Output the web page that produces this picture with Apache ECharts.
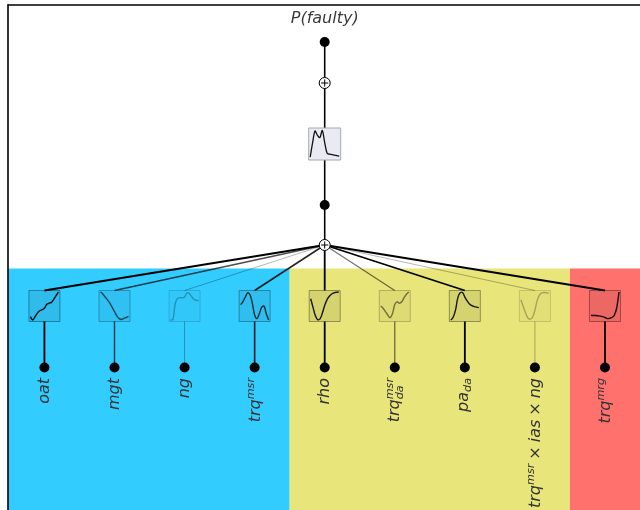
<!DOCTYPE html>
<html>
<head>
<meta charset="utf-8">
<script src="https://cdn.jsdelivr.net/npm/echarts@6/dist/echarts.min.js"></script>
<style>
  html, body { margin: 0; padding: 0; background: #fff; }
  #chart { width: 640px; height: 510px; }
</style>
</head>
<body>
<div id="chart"></div>
<script>
// Input features of the additive model, left to right.
// ^{..} marks a superscript, _{..} a subscript.
const featureLabels = ['oat', 'mgt', 'ng', 'trq^{msr}', 'rho', 'trq^{msr}_{da}', 'pa_{da}', 'trq^{msr} × ias × ng', 'trq^{mrg}'];
const featureGroups = [0, 0, 0, 0, 1, 1, 1, 1, 2];
const featureWeights = [1.0, 0.7, 0.3, 0.85, 1.0, 0.55, 1.0, 0.3, 1.0];
const groupColors = ['#33ccff', '#e8e57a', '#ff716d'];

// Learned shape functions, sampled at even steps across each box (0 = box bottom, 1 = box top).
const shapeOat   = [0.12, 0.0, 0.12, 0.25, 0.33, 0.37, 0.42, 0.56, 0.6, 0.63, 0.74, 0.87, 1.0];
const shapeMgt   = [1.0, 0.93, 0.82, 0.72, 0.6, 0.45, 0.3, 0.15, 0.05, 0.02, 0.06, 0.09, 0.13];
const shapeNg    = [0.0, 0.02, 0.58, 0.77, 0.8, 0.79, 0.82, 0.97, 0.95, 0.84, 0.74, 0.7, 0.7];
const shapeTrq   = [0.55, 0.66, 0.82, 0.97, 0.9, 0.6, 0.18, 0.05, 0.22, 0.45, 0.5, 0.22, 0.0];
const shapeRho   = [0.76, 0.45, 0.15, 0.01, 0.04, 0.25, 0.52, 0.73, 0.85, 0.93, 0.97, 0.99, 1.0];
const shapeTrqDa = [0.5, 0.42, 0.3, 0.18, 0.08, 0.22, 0.55, 0.65, 0.6, 0.65, 0.8, 0.92, 1.0];
const shapePaDa  = [0.0, 0.1, 0.35, 0.8, 0.97, 0.98, 0.82, 0.68, 0.57, 0.51, 0.48, 0.46, 0.44];
const shapeTriple = [0.72, 0.48, 0.25, 0.07, 0.03, 0.1, 0.35, 0.7, 0.9, 0.97, 0.98, 0.97, 0.96];
const shapeMrg   = [0.17, 0.16, 0.16, 0.15, 0.14, 0.12, 0.09, 0.05, 0.06, 0.09, 0.17, 0.42, 1.0];
const featureShapes = [shapeOat, shapeMgt, shapeNg, shapeTrq, shapeRho, shapeTrqDa, shapePaDa, shapeTriple, shapeMrg];

// Output link function
const outputLabel = 'P(faulty)';
const outputShape = [0.05, 0.55, 0.95, 0.8, 0.72, 0.97, 0.55, 0.18, 0.15, 0.13, 0.12, 0.1, 0.08];

// Layout: vertical level of each row (the y axis runs downward)
const LEVEL = {
  title: 19, out: 42, outSum: 83, outShape: 144, link: 205, hub: 245,
  bands: 268.5, shapes: 306, inputs: 367.5, labels: 378
};
const HUB_X = 4;
const BOX = 31;
const OUT_BOX = 32;
const FONT_FAMILY = '"DejaVu Sans", "Noto Sans", sans-serif';
const MAIN_SIZE = 16;
const LABEL_SIZE = 16;
const TEXT_COLOR = '#333';

const X_MIN = -0.52, X_MAX = 8.5, Y_MIN = 5, Y_MAX = 510;

// ---- text helpers -------------------------------------------------------
const measureCtx = document.createElement('canvas').getContext('2d');
function textWidth(t, size) {
  measureCtx.font = 'italic ' + size + 'px ' + FONT_FAMILY;
  return measureCtx.measureText(t).width;
}
function parseLabel(s) {
  const pieces = [];
  let i = 0, buf = '';
  while (i < s.length) {
    if ((s[i] === '^' || s[i] === '_') && s[i + 1] === '{') {
      if (buf) { pieces.push({ text: buf, kind: 'base' }); buf = ''; }
      const end = s.indexOf('}', i);
      pieces.push({ text: s.slice(i + 2, end), kind: s[i] === '^' ? 'sup' : 'sub' });
      i = end + 1;
    } else { buf += s[i]; i++; }
  }
  if (buf) pieces.push({ text: buf, kind: 'base' });
  return pieces;
}
// Lay pieces out along a baseline; returns positioned fragments and total length.
function layoutLabel(s, mainSize) {
  const scriptSize = mainSize * 0.7;
  // operator spacing a little tighter than a full word space
  const pieces = parseLabel(s.replace(/ /g, '\u2005'));
  const frags = [];
  let cursor = 0, prevScript = null;
  let top = -mainSize / 2, bottom = mainSize / 2;
  pieces.forEach(p => {
    const size = p.kind === 'base' ? mainSize : scriptSize;
    const w = textWidth(p.text, size);
    let dy = 0;
    if (p.kind === 'sup') { dy = -0.3 * mainSize; top = Math.min(top, dy - scriptSize / 2); }
    if (p.kind === 'sub') { dy = 0.31 * mainSize; bottom = Math.max(bottom, dy + scriptSize / 2); }
    if (p.kind !== 'base' && prevScript && prevScript.kind !== p.kind) {
      // stacked super/subscript share the same start
      frags.push({ text: p.text, size, x: prevScript.x, dy });
      cursor = prevScript.x + Math.max(prevScript.w, w);
      prevScript = null;
    } else {
      frags.push({ text: p.text, size, x: cursor, dy });
      prevScript = p.kind !== 'base' ? { kind: p.kind, x: cursor, w } : null;
      cursor += w;
    }
  });
  return { frags, length: cursor, shift: -(top + bottom) / 2 };
}
function textEl(t, x, y, size, align, valign, fill) {
  return {
    type: 'text', x, y,
    style: {
      text: t, fill, font: 'italic ' + size + 'px ' + FONT_FAMILY,
      align, verticalAlign: valign, textAlign: align, textVerticalAlign: valign
    }
  };
}
function curvePoints(samples, cx, cy, size) {
  const pad = 1.5, inner = size - 2 * pad;
  const left = cx - size / 2 + pad, bottom = cy + size / 2 - pad;
  return samples.map((v, k) => [left + inner * k / (samples.length - 1), bottom - v * inner]);
}
function ink(alpha) { return 'rgba(0,0,0,' + alpha + ')'; }

// ---- data for the series --------------------------------------------------
const featureIdx = featureLabels.map((_, i) => [i, LEVEL.shapes, i]);

const bandData = [];
groupColors.forEach((c, g) => {
  const members = featureGroups.map((gg, i) => gg === g ? i : -1).filter(i => i >= 0);
  const start = g === 0 ? X_MIN : members[0] - 0.5;
  const end = g === groupColors.length - 1 ? X_MAX : members[members.length - 1] + 0.5;
  bandData.push([start, LEVEL.bands, end, Y_MAX, g]);
});

const dotData = [[HUB_X, LEVEL.out], [HUB_X, LEVEL.link]].concat(featureLabels.map((_, i) => [i, LEVEL.inputs]));
const sumData = [[HUB_X, LEVEL.outSum], [HUB_X, LEVEL.hub]];

const chart = echarts.init(document.getElementById('chart'), null, { renderer: 'canvas' });

chart.setOption({
  animation: false,
  backgroundColor: '#fff',
  grid: { left: 8, right: 0, top: 5, bottom: 0 },
  xAxis: {
    type: 'value', min: X_MIN, max: X_MAX, position: 'top', z: 20,
    axisLine: { show: true, onZero: false, lineStyle: { color: '#000', width: 1.6 } },
    axisTick: { show: false }, axisLabel: { show: false }, splitLine: { show: false }
  },
  yAxis: {
    type: 'value', min: Y_MIN, max: Y_MAX, inverse: true, z: 20,
    axisLine: { show: true, onZero: false, lineStyle: { color: '#000', width: 1.6 } },
    axisTick: { show: false }, axisLabel: { show: false }, splitLine: { show: false }
  },
  series: [
    // coloured feature-group bands
    {
      type: 'custom', silent: true, z: 1, data: bandData,
      renderItem(params, api) {
        const p0 = api.coord([api.value(0), api.value(1)]);
        const p1 = api.coord([api.value(2), api.value(3)]);
        return {
          type: 'rect',
          shape: { x: p0[0], y: p0[1], width: p1[0] - p0[0], height: p1[1] - p0[1] },
          style: { fill: groupColors[api.value(4)] }
        };
      }
    },
    // output chain: output node down to the summation hub
    {
      type: 'custom', silent: true, z: 2, data: [[HUB_X, LEVEL.out, LEVEL.hub]],
      renderItem(params, api) {
        const a = api.coord([api.value(0), api.value(1)]);
        const b = api.coord([api.value(0), api.value(2)]);
        return { type: 'line', shape: { x1: a[0], y1: a[1], x2: b[0], y2: b[1] }, style: { stroke: '#000', lineWidth: 1.6 } };
      }
    },
    // hub to each feature box, and box to input node
    {
      type: 'custom', silent: true, z: 2, data: featureIdx,
      renderItem(params, api) {
        const i = api.value(2);
        const w = featureWeights[i];
        const hub = api.coord([HUB_X, LEVEL.hub]);
        const box = api.coord([i, LEVEL.shapes]);
        const inp = api.coord([i, LEVEL.inputs]);
        const st = { stroke: ink(w), lineWidth: 0.6 + 1.2 * w };
        return {
          type: 'group',
          children: [
            { type: 'line', shape: { x1: hub[0], y1: hub[1], x2: box[0], y2: box[1] - BOX / 2 }, style: st },
            { type: 'line', shape: { x1: box[0], y1: box[1] + BOX / 2, x2: inp[0], y2: inp[1] }, style: st }
          ]
        };
      }
    },
    // feature shape-function boxes
    {
      type: 'custom', silent: true, z: 3, data: featureIdx,
      renderItem(params, api) {
        const i = api.value(2);
        const w = featureWeights[i];
        const c = api.coord([i, LEVEL.shapes]);
        return {
          type: 'group',
          children: [
            {
              type: 'rect',
              shape: { x: c[0] - BOX / 2, y: c[1] - BOX / 2, width: BOX, height: BOX },
              style: { fill: ink(0.08 * w), stroke: ink(0.05 + 0.3 * w), lineWidth: 1 }
            },
            {
              type: 'polyline',
              shape: { points: curvePoints(featureShapes[i], c[0], c[1], BOX), smooth: 0.35 },
              style: { fill: null, stroke: ink(0.9 * w), lineWidth: 1.4 }
            }
          ]
        };
      }
    },
    // output link-function box
    {
      type: 'custom', silent: true, z: 3, data: [[HUB_X, LEVEL.outShape]],
      renderItem(params, api) {
        const c = api.coord([api.value(0), api.value(1)]);
        return {
          type: 'group',
          children: [
            {
              type: 'rect',
              shape: { x: c[0] - OUT_BOX / 2, y: c[1] - OUT_BOX / 2, width: OUT_BOX, height: OUT_BOX },
              style: { fill: '#eaeaf2', stroke: '#a8a8b0', lineWidth: 1 }
            },
            {
              type: 'polyline',
              shape: { points: curvePoints(outputShape, c[0], c[1], OUT_BOX), smooth: 0.3 },
              style: { fill: null, stroke: '#111', lineWidth: 1.3 }
            }
          ]
        };
      }
    },
    // summation nodes
    {
      type: 'custom', silent: true, z: 4, data: sumData,
      renderItem(params, api) {
        const c = api.coord([api.value(0), api.value(1)]);
        const r = 5.5, k = 3.6;
        return {
          type: 'group',
          children: [
            { type: 'circle', shape: { cx: c[0], cy: c[1], r }, style: { fill: '#fff', stroke: '#000', lineWidth: 1 } },
            { type: 'line', shape: { x1: c[0] - k, y1: c[1], x2: c[0] + k, y2: c[1] }, style: { stroke: '#000', lineWidth: 1 } },
            { type: 'line', shape: { x1: c[0], y1: c[1] - k, x2: c[0], y2: c[1] + k }, style: { stroke: '#000', lineWidth: 1 } }
          ]
        };
      }
    },
    // nodes
    {
      type: 'scatter', silent: true, z: 5, data: dotData,
      symbol: 'circle', symbolSize: 10, itemStyle: { color: '#000', opacity: 1 }
    },
    // output title
    {
      type: 'custom', silent: true, z: 6, data: [[HUB_X, LEVEL.title]],
      renderItem(params, api) {
        const c = api.coord([api.value(0), api.value(1)]);
        return textEl(outputLabel, c[0], c[1], MAIN_SIZE, 'center', 'middle', '#3a3a3a');
      }
    },
    // rotated feature labels
    {
      type: 'custom', silent: true, z: 6, data: featureIdx.map(d => [d[0], LEVEL.labels, d[2]]),
      renderItem(params, api) {
        const i = api.value(2);
        const c = api.coord([i, api.value(1)]);
        const lay = layoutLabel(featureLabels[i], LABEL_SIZE);
        return {
          type: 'group', x: c[0], y: c[1], rotation: Math.PI / 2,
          children: lay.frags.map(f =>
            textEl(f.text, f.x - lay.length, f.dy + lay.shift, f.size, 'left', 'middle', TEXT_COLOR))
        };
      }
    }
  ]
});
</script>
</body>
</html>
